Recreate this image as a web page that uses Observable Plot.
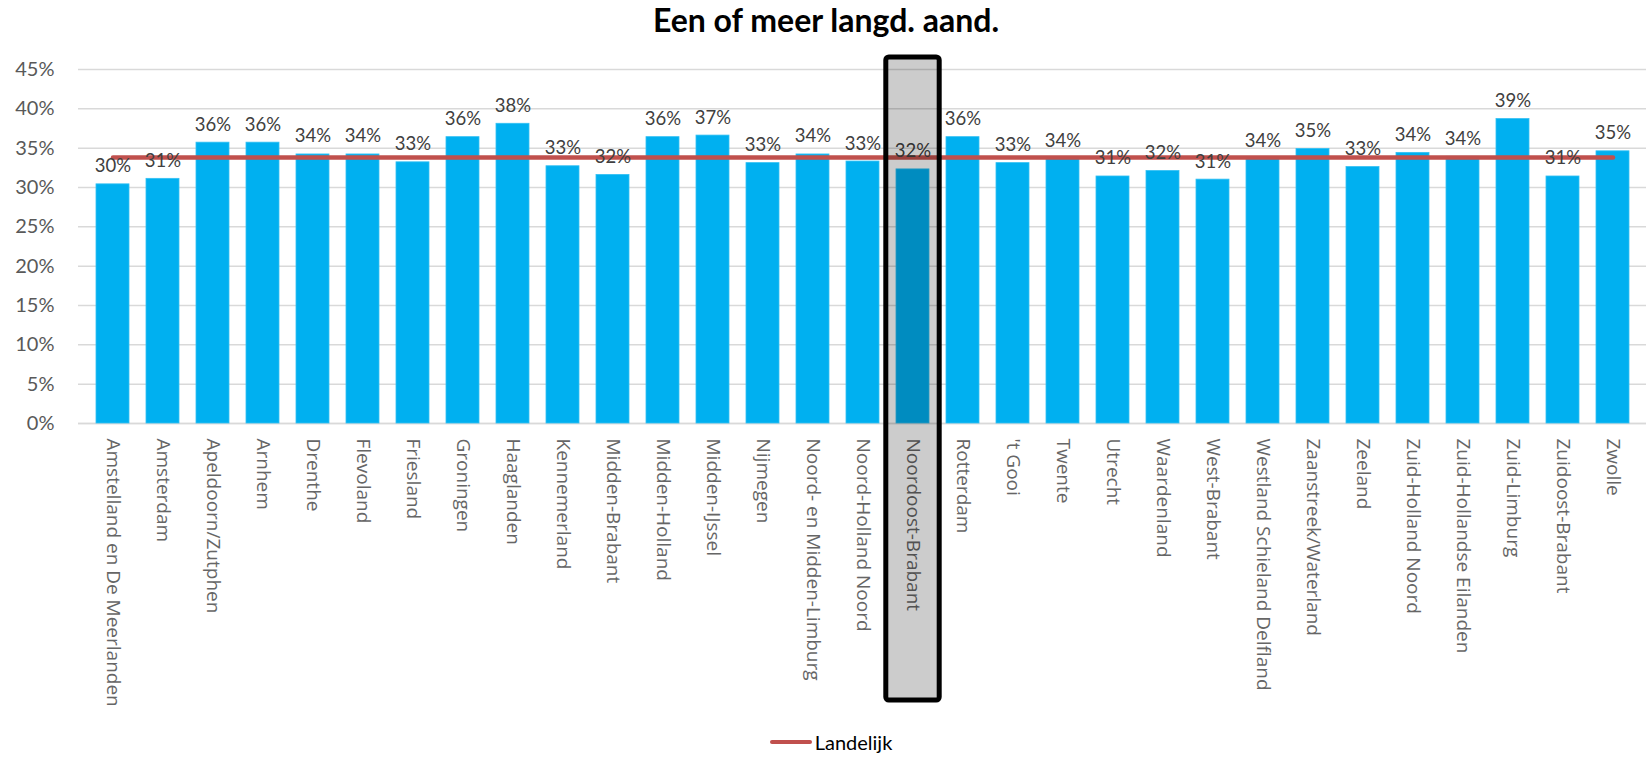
<!DOCTYPE html>
<html>
<head>
<meta charset="utf-8">
<script src="https://cdn.jsdelivr.net/npm/d3@7"></script>
<script src="https://cdn.jsdelivr.net/npm/@observablehq/plot@0.6"></script>
<style>
  html, body { margin: 0; padding: 0; background: #fff; }
  #title { height: 40px; line-height: 40px; text-align: center; font-family: Lato, "Open Sans", sans-serif; font-weight: bold; font-size: 32px; color: #000; padding-left: 2px; }
  #legend { height: 27px; display: flex; justify-content: center; align-items: center; font-family: Lato, "Open Sans", sans-serif; font-size: 20px; color: #000; padding-left: 12px; margin-top: -2px; }
  #legend .sw { width: 42px; height: 4px; background: #C0504D; margin-right: 3px; border-radius: 2px; }
</style>
</head>
<body>
<div id="title">Een of meer langd. aand.</div>
<div id="chart"></div>
<div id="legend"><span class="sw"></span><span>Landelijk</span></div>
<script>
const categories = [
  "Amstelland en De Meerlanden", "Amsterdam", "Apeldoorn/Zutphen", "Arnhem", "Drenthe",
  "Flevoland", "Friesland", "Groningen", "Haaglanden", "Kennemerland", "Midden-Brabant",
  "Midden-Holland", "Midden-IJssel", "Nijmegen", "Noord- en Midden-Limburg",
  "Noord-Holland Noord", "Noordoost-Brabant", "Rotterdam", "'t Gooi", "Twente", "Utrecht",
  "Waardenland", "West-Brabant", "Westland Schieland Delfland", "Zaanstreek/Waterland",
  "Zeeland", "Zuid-Holland Noord", "Zuid-Hollandse Eilanden", "Zuid-Limburg",
  "Zuidoost-Brabant", "Zwolle"
];
const values = [
  0.304, 0.311, 0.357, 0.357, 0.342,
  0.342, 0.332, 0.364, 0.381, 0.327, 0.316,
  0.364, 0.366, 0.331, 0.342,
  0.333, 0.323, 0.364, 0.331, 0.336, 0.314,
  0.321, 0.310, 0.336, 0.349,
  0.326, 0.344, 0.339, 0.387,
  0.314, 0.346
];
const landelijk = 0.338;
const highlighted = ["Noordoost-Brabant"];
const yTicks = [0, 0.05, 0.10, 0.15, 0.20, 0.25, 0.30, 0.35, 0.40, 0.45];

const data = categories.map((c, i) => ({region: c, value: values[i], landelijk}));
const pct = d3.format(".0%");

function highlightBox(cats) {
  return (index, scales, vals, dims) => {
    const x = scales.x;
    const step = x(categories[1]) - x(categories[0]);
    const bw = typeof x.bandwidth === "function" ? x.bandwidth() : step * 0.66;
    const g = d3.create("svg:g");
    for (const c of cats) {
      const cx = x(c) + bw / 2;
      const top = dims.marginTop - 12;
      const bottom = dims.height - 30;
      g.append("rect")
        .attr("x", cx - step / 2 - 1.7)
        .attr("width", step + 3.4)
        .attr("y", top)
        .attr("height", bottom - top)
        .attr("rx", 3)
        .attr("fill", "rgba(0,0,0,0.2)")
        .attr("stroke", "#000")
        .attr("stroke-width", 5);
    }
    return g.node();
  };
}

const chart = Plot.plot({
  width: 1650,
  height: 690,
  marginTop: 29,
  marginBottom: 307,
  marginLeft: 78,
  marginRight: 4,
  style: {fontFamily: "Lato, 'Open Sans', sans-serif", background: "#fff"},
  x: {domain: categories, paddingInner: 0.34, paddingOuter: 0.17, label: null},
  y: {domain: [0, 0.45], label: null},
  marks: [
    Plot.gridY(yTicks, {stroke: "#d9d9d9", strokeOpacity: 1, strokeWidth: 1.5}),
    Plot.ruleY([0], {stroke: "#d9d9d9", strokeWidth: 1.5}),
    Plot.barY(data, {x: "region", y: "value", fill: "#00B0F0", stroke: "#33c0f3", strokeWidth: 0.8}),
    Plot.lineY(data, {x: "region", y: "landelijk", stroke: "#C0504D", strokeWidth: 4.5}),
    Plot.text(data, {x: "region", y: "value", text: d => pct(d.value), lineAnchor: "bottom", dy: -12, fill: "#404040", fontSize: 18.5}),
    Plot.axisY({ticks: yTicks, tickFormat: pct, tickSize: 0, tickPadding: 24, fontSize: 20, fill: "#595959", label: null}),
    Plot.axisX({tickRotate: 90, tickSize: 0, tickPadding: 15, fontSize: 19, fill: "#666666", fontFamily: "'Open Sans', sans-serif", label: null}),
    highlightBox(highlighted)
  ]
});
document.getElementById("chart").appendChild(chart);
</script>
</body>
</html>
